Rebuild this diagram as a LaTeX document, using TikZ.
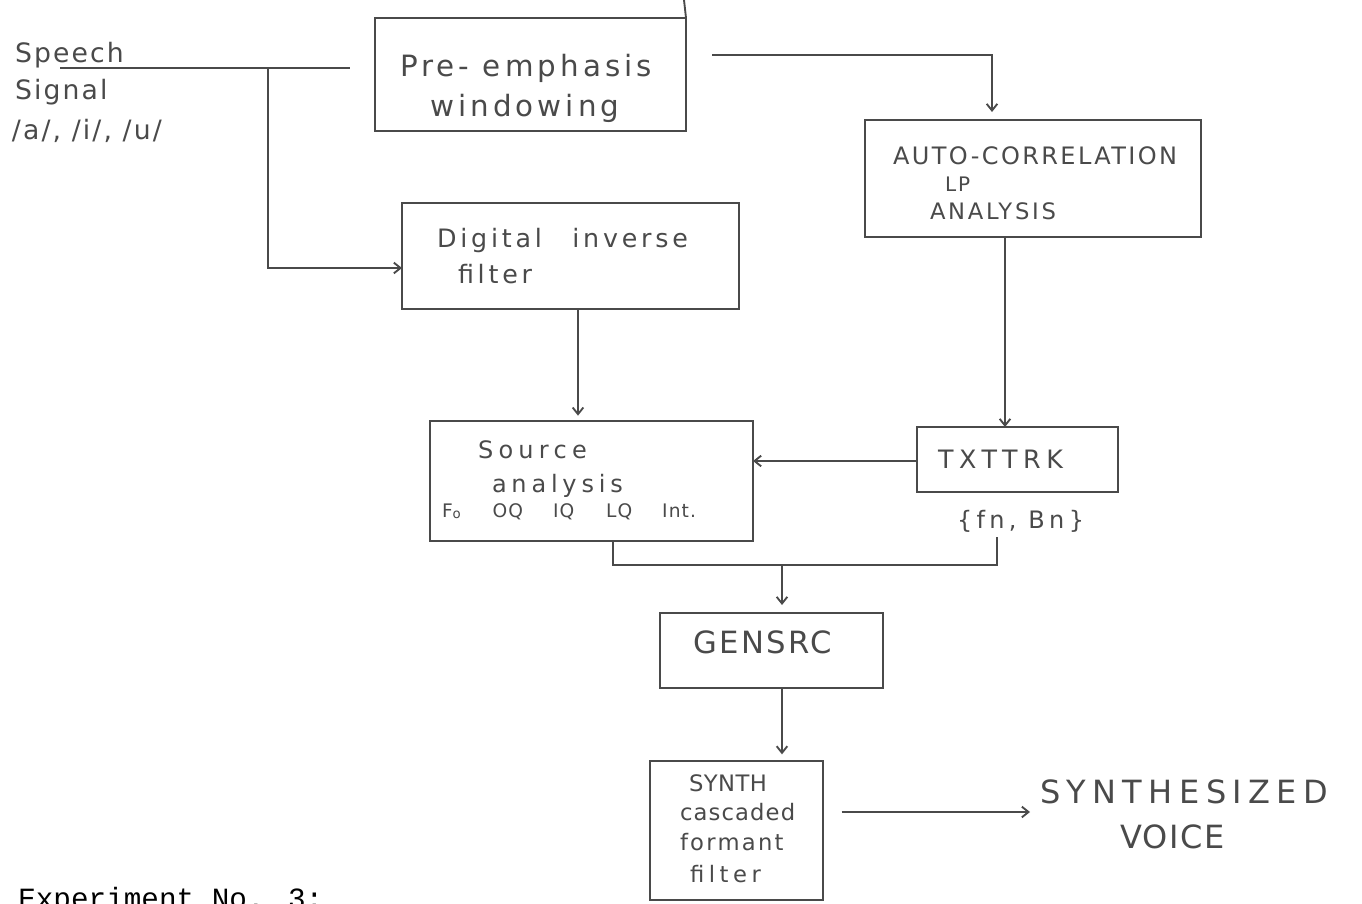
\documentclass[tikz,border=0pt]{standalone}
\usepackage{fontspec}
\usetikzlibrary{arrows.meta}
\newfontfamily\hand{DejaVu Sans}
\newfontfamily\typed{Liberation Mono}
% handwriting-like text: size (pt) and letter spacing (% of size)
\newcommand\hw[2]{\hand\fontsize{#1}{#1}\selectfont\addfontfeature{LetterSpace=#2}}
\definecolor{ink}{HTML}{4A4A4A}
\begin{document}
\begin{tikzpicture}[x=0.75pt,y=-0.75pt,
  wire/.style={draw=ink,line width=1.4pt},
  arr/.style={wire,-{Straight Barb[length=5pt,width=8pt]}},
  box/.style={draw=ink,line width=1.4pt,rectangle,inner sep=0pt,outer sep=0pt},
  tx/.style={anchor=base west,inner sep=0pt,outer sep=0pt,text=ink}]
\fill[white] (0,0) rectangle (1362,903);
\useasboundingbox (0,0) rectangle (1362,903);

% processing blocks
\node[box,minimum width=233.25pt,minimum height=84.75pt] (pre) at (530.5,74.5) {};
\node[box,minimum width=252pt,minimum height=87.75pt] (auto) at (1033,178.5) {};
\node[box,minimum width=252.75pt,minimum height=79.5pt] (dif) at (570.5,256) {};
\node[box,minimum width=242.25pt,minimum height=90pt] (src) at (591.5,481) {};
\node[box,minimum width=150.75pt,minimum height=48.75pt] (txt) at (1017.5,459.5) {};
\node[box,minimum width=167.25pt,minimum height=56.25pt] (gen) at (771.5,650.5) {};
\node[box,minimum width=129.75pt,minimum height=104.25pt] (syn) at (736.5,830.5) {};

% block captions
\node[tx] (pre1) at (400,76) {\hw{22}{14}Pre- emphasis};
\node[tx] (pre2) at (430,116) {\hw{22}{14}windowing};
\node[tx] (sp1) at (15,62) {\hw{20}{8}Speech};
\node[tx] (sp2) at (15,99) {\hw{20}{8}Signal};
\node[tx] (sp3) at (12,139) {\hw{20}{8}/a/, /i/, /u/};
\node[tx] (au1) at (893,164) {\hw{18}{10}AUTO-CORRELATION};
\node[tx] (au2) at (945,191) {\hw{15}{10}LP};
\node[tx] (au3) at (930,219) {\hw{17}{12}ANALYSIS};
\node[tx] (di1) at (437,247) {\hw{19}{15}Digital\hspace{1.2em}inverse};
\node[tx] (di2) at (458,283) {\hw{19}{15}filter};
\node[tx] (sr1) at (478,458) {\hw{18}{22}Source};
\node[tx] (sr2) at (492,492) {\hw{18}{20}analysis};
\node[tx] (sr3) at (442,517) {\hw{14}{6}F\raisebox{-0.1em}{\fontsize{10}{10}\selectfont o}\hspace{1.7em}OQ\hspace{1.6em}IQ\hspace{1.7em}LQ\hspace{1.6em}Int.};
\node[tx] (tt) at (938,468) {\hw{19}{22}TXTTRK};
\node[tx] (fn) at (957,528) {\hw{18}{18}\{fn, Bn\}};
\node[tx] (gs) at (693,653) {\hw{23}{8}GENSRC};
\node[tx] (sy1) at (689,791) {\hw{17}{2}SYNTH};
\node[tx] (sy2) at (680,820) {\hw{17}{5}cascaded};
\node[tx] (sy3) at (680,850) {\hw{17}{10}formant};
\node[tx] (sy4) at (690,882) {\hw{17}{20}filter};
\node[tx] (sv1) at (1040,803) {\hw{24}{20}SYNTHESIZED};
\node[tx] (sv2) at (1120,848) {\hw{24}{5}VOICE};
\node[anchor=base west,inner sep=0pt,text=black] (exp) at (18,908)
  {\typed\fontsize{22}{22}\selectfont Experiment No. 3:};

% connectors
\coordinate (s0) at (60,68);
\coordinate (s1) at (350,68);
\coordinate (sb) at (268,68);
\coordinate (p1) at (712,55);
\coordinate (jr) at (997,565);
\coordinate (jm) at (782,565);
\coordinate (a0) at (842,812);
\coordinate (a1) at (1030,812);
\coordinate (tw) at ([yshift=-1.125pt]txt.west);

\draw[wire] (pre.north east) -- (684,0);
\draw[wire] (s0) -- (s1);
\draw[arr] (sb) |- ([yshift=-9pt]dif.west);
\draw[arr,shorten >=6pt] (p1) -| ([xshift=-30.75pt]auto.north);
\draw[arr] ([xshift=-21pt]auto.south) -- ([xshift=-9.375pt]txt.north);
\draw[arr,shorten >=4pt] ([xshift=5.625pt]dif.south) -- ([xshift=-10.125pt]src.north);
\draw[arr] (tw) -- (src.east |- tw);
\draw[wire] ([xshift=16.125pt]src.south) |- (jr) -- ([yshift=-4pt]jr |- fn.south);
\draw[arr,shorten >=6pt] (jm) -- ([xshift=7.875pt]gen.north);
\draw[arr,shorten >=5pt] ([xshift=7.875pt]gen.south) -- ([xshift=34.125pt]syn.north);
\draw[arr,shorten <=14pt] (syn.east |- a0) -- (a1);
\end{tikzpicture}
\end{document}
